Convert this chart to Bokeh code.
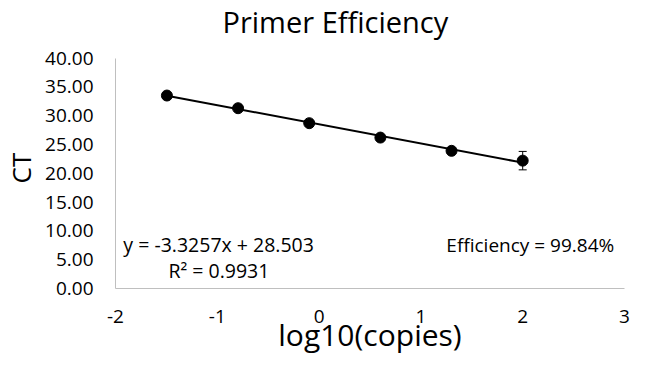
from bokeh.plotting import figure
from bokeh.models import ColumnDataSource, Whisker, Label, NumeralTickFormatter, FixedTicker, Range1d
from bokeh.embed import file_html
from bokeh.resources import INLINE

# ---- data ----
log_copies = [-1.495, -0.796, -0.097, 0.602, 1.301, 2.0]
ct_values = [33.50, 31.30, 28.70, 26.20, 23.90, 22.20]
ct_err = [0.2, 0.2, 0.2, 0.2, 0.5, 1.6]
fit_slope = -3.3257
fit_intercept = 28.503
x_ticks = [-2, -1, 0, 1, 2, 3]
y_ticks = [0, 5, 10, 15, 20, 25, 30, 35, 40]
title_text = "Primer Efficiency"
x_label = "log10(copies)"
y_label = "CT"
eq_text = "y = -3.3257x + 28.503"
r2_text = "R² = 0.9931"
eff_text = "Efficiency = 99.84%"

FONT = "Open Sans"

# the frame reaches the top of the canvas so the title can sit in the space above y = 40
p = figure(width=631, height=357, output_backend="svg", toolbar_location=None,
           x_range=Range1d(-2, 3), y_range=Range1d(0, 50),
           min_border_left=114, min_border_right=7, min_border_top=0, min_border_bottom=68)
p.outline_line_color = None
p.xgrid.visible = False
p.ygrid.visible = False
p.background_fill_color = "white"
p.border_fill_color = "white"

for ax in (p.xaxis[0], p.yaxis[0]):
    ax.axis_line_color = "#bfbfbf"
    ax.axis_line_width = 1
    ax.major_tick_line_color = None
    ax.minor_tick_line_color = None
    ax.major_label_text_font = FONT
    ax.major_label_text_font_size = "19px"
    ax.major_label_text_color = "#000000"
    ax.axis_label_text_font = FONT
    ax.axis_label_text_font_style = "normal"
    ax.axis_label_text_color = "#000000"

p.xaxis.ticker = FixedTicker(ticks=x_ticks)
p.yaxis.ticker = FixedTicker(ticks=y_ticks)
p.yaxis.bounds = (min(y_ticks), max(y_ticks))
p.xaxis.formatter = NumeralTickFormatter(format="0")
p.yaxis.formatter = NumeralTickFormatter(format="0.00")
p.xaxis.major_label_standoff = 15
p.yaxis.major_label_standoff = 16
p.xaxis.axis_label = x_label
# non-breaking padding keeps the label centred on the 0-40 part of the axis
p.yaxis.axis_label = y_label + "\u00a0" * 7
p.xaxis.axis_label_text_font_size = "30px"
p.yaxis.axis_label_text_font_size = "26px"
p.xaxis.axis_label_standoff = -12
p.yaxis.axis_label_standoff = 3

# chart title
p.add_layout(Label(x=0.16, y=46.4, text=title_text, text_font=FONT, text_font_size="29px",
                   text_color="#000000", text_baseline="alphabetic", text_align="center"))

# trendline over the data range
x0, x1 = min(log_copies), max(log_copies)
p.line([x0, x1], [fit_slope * x0 + fit_intercept, fit_slope * x1 + fit_intercept],
       line_color="black", line_width=2)

src = ColumnDataSource(dict(x=log_copies, y=ct_values,
                            lo=[v - e for v, e in zip(ct_values, ct_err)],
                            hi=[v + e for v, e in zip(ct_values, ct_err)]))
w = Whisker(source=src, base="x", lower="lo", upper="hi", line_color="black", line_width=1)
w.upper_head.size = 8
w.lower_head.size = 8
w.upper_head.line_color = "black"
w.lower_head.line_color = "black"
p.add_layout(w)
p.scatter("x", "y", source=src, size=11, fill_color="black", line_color="black")

# annotations
for txt, xx, yy, size in [(eq_text, -1.923, 7.6, "19.5px"), (r2_text, -1.48, 3.1, "19.5px"),
                          (eff_text, 1.25, 7.6, "19px")]:
    p.add_layout(Label(x=xx, y=yy, text=txt, text_font=FONT, text_font_size=size,
                       text_color="#000000", text_baseline="middle", text_align="left"))

open("out.html", "w").write(file_html(p, INLINE))
